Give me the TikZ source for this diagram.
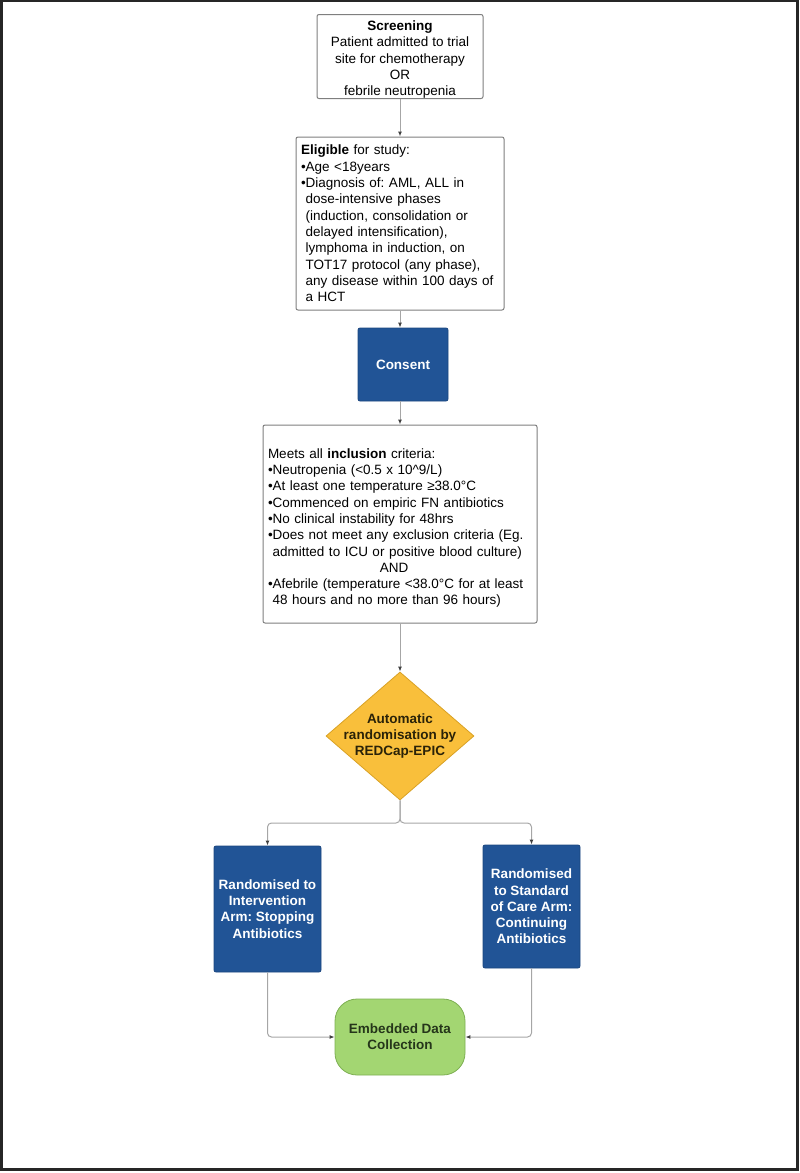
\documentclass[tikz,border=0pt]{standalone}
\usepackage{fontspec}
\setmainfont{Liberation Sans}
\usetikzlibrary{arrows.meta,shapes.geometric}
\definecolor{boxline}{HTML}{7F7F7F}
\definecolor{conn}{HTML}{A6A6A6}
\definecolor{tipc}{HTML}{404040}
\definecolor{blue1}{HTML}{215496}
\definecolor{blueline}{HTML}{1B467F}
\definecolor{yel}{HTML}{F9BF3B}
\definecolor{yelline}{HTML}{D9A124}
\definecolor{yeltext}{HTML}{2A2208}
\definecolor{grn}{HTML}{A3D672}
\definecolor{grnline}{HTML}{7DAF52}
\definecolor{grntext}{HTML}{25361A}
\frenchspacing
\begin{document}
\begin{tikzpicture}[x=1pt,y=-1pt,
  every node/.style={font=\fontsize{13.5}{16.3}\selectfont},
  wbox/.style={draw=boxline, line width=1pt, rounded corners=2pt, fill=white, inner xsep=5pt, inner ysep=0pt},
  bbox/.style={draw=blueline, fill=blue1, line width=0.8pt, rounded corners=2pt, text=white, font=\fontsize{13.5}{16.3}\selectfont\bfseries, align=center, inner sep=0pt},
  link/.style={draw=conn, line width=1pt, -{Latex[length=5pt,width=4pt,color=tipc]}},
]
\useasboundingbox (0,0) rectangle (800,1173);
\draw[line width=2.2pt, black!85] (1.5,1) rectangle (797.5,1169.5);

\node[wbox, minimum width=166pt, minimum height=84pt, align=center] (scr) at (400,56.5)
 {\rule{0pt}{16pt}\textbf{Screening}\\Patient admitted to trial\\site for chemotherapy\\OR\\febrile neutropenia};

\node[wbox, text width=198pt, minimum height=173pt, align=left] (elig) at (400,223.5)
 {\textbf{Eligible} for study:\\
  •Age <18years\\
  •Diagnosis of: AML, ALL in\\
  \phantom{•}dose-intensive phases\\
  \phantom{•}(induction, consolidation or\\
  \phantom{•}delayed intensification),\\
  \phantom{•}lymphoma in induction, on\\
  \phantom{•}TOT17 protocol (any phase),\\
  \phantom{•}any disease within 100 days of\\
  \phantom{•}a HCT};

\node[bbox, minimum width=90pt, minimum height=73pt] (cons) at (403,364.5) {Consent};

\node[wbox, text width=264pt, minimum height=198pt, align=left] (incl) at (400,524)
 {\rule{0pt}{18pt}Meets all \textbf{inclusion} criteria:\\
  •Neutropenia (<0.5 x 10\textasciicircum9/L)\\
  •At least one temperature ≥38.0°C\\
  •Commenced on empiric FN antibiotics\\
  •No clinical instability for 48hrs\\
  •Does not meet any exclusion criteria (Eg.\\
  \phantom{•}admitted to ICU or positive blood culture)\\
  \makebox[252pt]{AND}\\
  •Afebrile (temperature <38.0°C for at least\\
  \phantom{•}48 hours and no more than 96 hours)};

\node[diamond, draw=yelline, fill=yel, line width=0.8pt, minimum width=148pt, minimum height=128pt, inner sep=0pt] (rand) at (400,736) {};
\node[font=\fontsize{13.5}{16.3}\selectfont\bfseries, text=yeltext, align=center] (randtxt) at (rand.center)
 {Automatic\\randomisation by\\REDCap-EPIC};

\node[bbox, minimum width=107pt, minimum height=126pt] (left) at (267.5,909)
 {Randomised to\\Intervention\\Arm: Stopping\\Antibiotics};
\node[bbox, minimum width=97pt, minimum height=123pt] (right) at (531.5,906.5)
 {Randomised\\to Standard\\of Care Arm:\\Continuing\\Antibiotics};

\node[draw=grnline, fill=grn, line width=0.8pt, rounded corners=22pt, minimum width=130pt, minimum height=76pt, inner sep=0pt, text=grntext, font=\fontsize{13.5}{16.3}\selectfont\bfseries, align=center] (edc) at (400,1037)
 {Embedded Data\\Collection};

\coordinate (split) at (400,823);
\draw[link] (scr.south) -- (elig.north);
\draw[link] (elig.south) -- (elig.south |- cons.north);
\draw[link] (incl.north |- cons.south) -- (incl.north);
\draw[link] (incl.south) -- (rand.north);
\draw[link, rounded corners=4pt] (rand.south) -- (split) -| (left.north);
\draw[link, rounded corners=4pt] (rand.south) -- (split) -| (right.north);
\draw[link, rounded corners=4pt] (left.south) |- (edc.west);
\draw[link, rounded corners=4pt] (right.south) |- (edc.east);
\end{tikzpicture}
\end{document}
